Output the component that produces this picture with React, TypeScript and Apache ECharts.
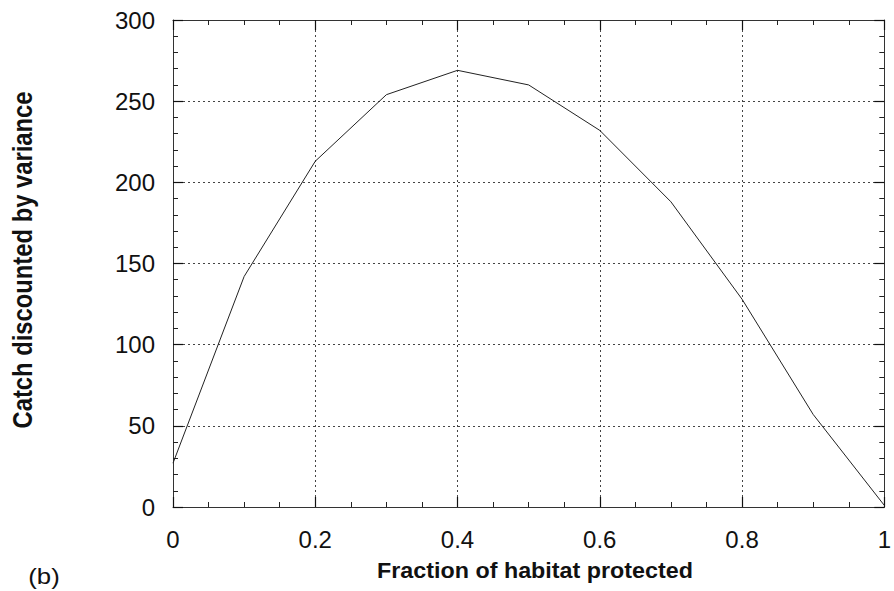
import React, { useEffect, useRef } from "react";
import * as echarts from "echarts";

const fractionProtected = [0, 0.1, 0.2, 0.3, 0.4, 0.5, 0.6, 0.7, 0.8, 0.9, 1.0];
const catchDiscounted = [27, 142, 213, 254, 269, 260, 232, 188, 128, 57, 1];
const xTickStep = 0.2;
const yTickStep = 50;
const xAxisTitle = "Fraction of habitat protected";
const yAxisTitle = "Catch discounted by variance";
const panelLabel = "(b)";

export default function App() {
  const ref = useRef<HTMLDivElement>(null);
  useEffect(() => {
    if (!ref.current) return;
    const chart = echarts.init(ref.current, undefined, { renderer: "svg" });
    const font = "'Liberation Sans', Arial, Helvetica, sans-serif";
    const tick = { show: true, inside: true, length: 10, lineStyle: { color: "#111", width: 1.2 } };
    const minor = (n: number) => ({ show: true, splitNumber: n, length: 5, lineStyle: { color: "#222", width: 1 } });
    const line = { show: true, onZero: false, lineStyle: { color: "#333", width: 1 } };
    const grid = { show: true, lineStyle: { type: [2, 3], color: "#444", width: 1 } };
    chart.setOption({
      animation: false,
      backgroundColor: "#fff",
      grid: { left: 173, right: 6, top: 20, bottom: 84, containLabel: false },
      xAxis: [
        {
          type: "value",
          min: 0,
          max: 1,
          interval: xTickStep,
          axisLine: line,
          axisTick: tick,
          minorTick: minor(4),
          axisLabel: {
            margin: 20,
            fontSize: 24,
            color: "#111",
            fontFamily: font,
            formatter: (v: number) => (v === 0 ? "0" : v === 1 ? "1" : String(Math.round(v * 10) / 10)),
          },
          splitLine: grid,
        },
        {
          type: "value",
          position: "top",
          min: 0,
          max: 1,
          interval: xTickStep,
          axisLine: line,
          axisTick: tick,
          minorTick: minor(4),
          axisLabel: { show: false },
          splitLine: { show: false },
        },
      ],
      yAxis: [
        {
          type: "value",
          min: 0,
          max: 300,
          interval: yTickStep,
          axisLine: line,
          axisTick: tick,
          minorTick: minor(5),
          axisLabel: { margin: 18, fontSize: 24, color: "#111", fontFamily: font },
          splitLine: grid,
        },
        {
          type: "value",
          position: "right",
          min: 0,
          max: 300,
          interval: yTickStep,
          axisLine: line,
          axisTick: tick,
          minorTick: minor(5),
          axisLabel: { show: false },
          splitLine: { show: false },
        },
      ],
      graphic: [
        {
          type: "text",
          x: 535,
          y: 570,
          scaleX: 1.06,
          style: {
            text: xAxisTitle,
            fontSize: 22,
            fontWeight: "bold",
            fill: "#111",
            fontFamily: font,
            align: "center",
            verticalAlign: "middle",
          },
        },
        {
          type: "text",
          x: 22.5,
          y: 260,
          rotation: Math.PI / 2,
          scaleX: 0.85,
          style: {
            text: yAxisTitle,
            fontSize: 28,
            fontWeight: "bold",
            fill: "#111",
            fontFamily: font,
            align: "center",
            verticalAlign: "middle",
          },
        },
        {
          type: "text",
          x: 44,
          y: 576,
          scaleX: 1.12,
          style: {
            text: panelLabel,
            fontSize: 23,
            fill: "#111",
            fontFamily: font,
            align: "center",
            verticalAlign: "middle",
          },
        },
      ],
      series: [
        {
          type: "line",
          data: fractionProtected.map((x, i) => [x, catchDiscounted[i]]),
          showSymbol: false,
          lineStyle: { color: "#222", width: 1 },
          xAxisIndex: 0,
          yAxisIndex: 0,
        },
      ],
    });
    return () => chart.dispose();
  }, []);
  return <div ref={ref} style={{ width: 894, height: 591, position: "absolute", left: 0, top: 0 }} />;
}
